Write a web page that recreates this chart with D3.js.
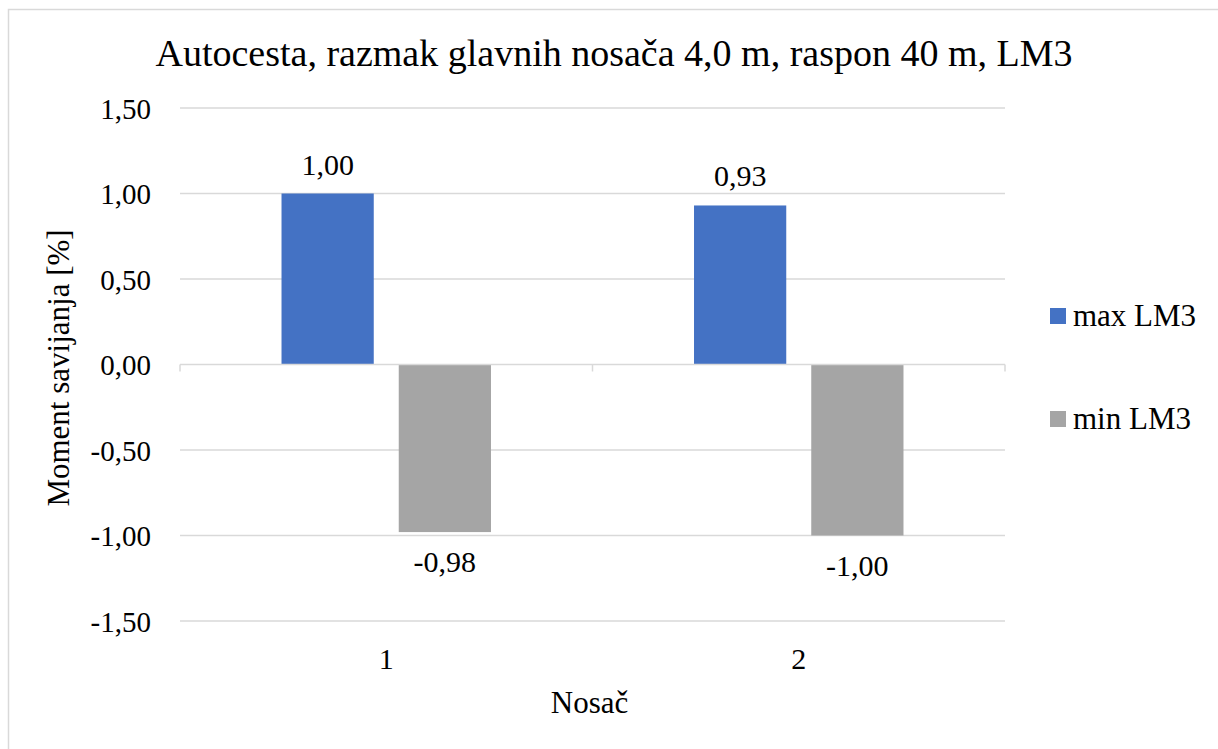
<!DOCTYPE html>
<html><head><meta charset="utf-8">
<script src="https://cdn.jsdelivr.net/npm/d3@7"></script>
</head><body style="margin:0">
<script>
const categories = ["1", "2"];
const seriesNames = ["max LM3", "min LM3"];
const maxValues = [1.00, 0.93];
const minValues = [-0.98, -1.00];
const yTicks = [-1.5, -1.0, -0.5, 0, 0.5, 1.0, 1.5];
const colors = ["#4472C4", "#A5A5A5"];
const title = "Autocesta, razmak glavnih nosača 4,0 m, raspon 40 m, LM3";

const W = 1218, H = 749;
const svg = d3.select("body").append("svg").attr("width", W).attr("height", H).style("display", "block");
svg.append("rect").attr("x", 8.5).attr("y", 9.5).attr("width", 1230).attr("height", 760)
  .attr("fill", "#fff").attr("stroke", "#d9d9d9").attr("stroke-width", 1.5);

function txt(sel, size) {
  return sel.attr("font-family", "Liberation Serif").attr("font-size", size).attr("fill", "#000");
}

const left = 180, right = 1005;
const y = d3.scaleLinear().domain([-1.5, 1.5]).range([621, 108]);
const x = d3.scaleBand().domain(categories).range([left, right]).paddingInner(0).paddingOuter(0);
const fmt = v => d3.format(".2f")(v).replace(".", ",").replace("−", "-");

// gridlines
svg.append("g").selectAll("line").data(yTicks.filter(t => t !== 0)).join("line")
  .attr("x1", left).attr("x2", right).attr("y1", d => y(d)).attr("y2", d => y(d))
  .attr("stroke", "#d9d9d9").attr("stroke-width", 1.5);

// y tick labels
txt(svg.append("g").selectAll("text").data(yTicks).join("text")
  .attr("x", 151).attr("y", d => y(d) + 10.5).attr("text-anchor", "end"), 29).text(d => fmt(d));

// bars
const data = [];
categories.forEach((c, i) => {
  data.push({cat: c, s: 0, v: maxValues[i]});
  data.push({cat: c, s: 1, v: minValues[i]});
});
const barW = x.bandwidth() * 0.2236;
const gap = x.bandwidth() * 0.0606;
const barX = d => x(d.cat) + x.bandwidth() / 2 + (d.s === 0 ? -(barW + gap / 2) : gap / 2);
svg.append("g").selectAll("rect").data(data).join("rect")
  .attr("x", barX).attr("width", barW)
  .attr("y", d => Math.min(y(d.v), y(0))).attr("height", d => Math.abs(y(d.v) - y(0)))
  .attr("fill", d => colors[d.s]);

// zero axis line with ticks
const ax = svg.append("g");
ax.append("line").attr("x1", left).attr("x2", right).attr("y1", y(0)).attr("y2", y(0))
  .attr("stroke", "#d9d9d9").attr("stroke-width", 1.5);
const tickXs = [left].concat(categories.map(c => x(c) + x.bandwidth()));
ax.selectAll("line.t").data(tickXs).join("line").attr("class", "t")
  .attr("x1", d => d).attr("x2", d => d).attr("y1", y(0)).attr("y2", y(0) + 7)
  .attr("stroke", "#d9d9d9").attr("stroke-width", 1.5);

// data labels
txt(svg.append("g").selectAll("text").data(data).join("text")
  .attr("x", d => barX(d) + barW / 2)
  .attr("y", d => d.v >= 0 ? y(d.v) - 19 : y(d.v) + 40)
  .attr("text-anchor", "middle"), 30).text(d => fmt(d.v));

// category labels
txt(svg.append("g").selectAll("text").data(categories).join("text")
  .attr("x", d => x(d) + x.bandwidth() / 2).attr("y", 669)
  .attr("text-anchor", "middle"), 30).text(d => d);

// axis titles
txt(svg.append("text").attr("x", (left + right) / 2 - 3).attr("y", 713).attr("text-anchor", "middle"), 31).text("Nosač");
txt(svg.append("text").attr("transform", "translate(69,368) rotate(-90)").attr("text-anchor", "middle"), 31)
  .text("Moment savijanja [%]");

// title
txt(svg.append("text").attr("x", 614).attr("y", 66).attr("text-anchor", "middle"), 38).text(title);

// legend
const lg = svg.append("g");
seriesNames.forEach((n, i) => {
  const cy = 316 + i * 103;
  lg.append("rect").attr("x", 1050).attr("y", cy - 8).attr("width", 16).attr("height", 16).attr("fill", colors[i]);
  txt(lg.append("text").attr("x", 1073).attr("y", cy + 10), 31).text(n);
});
</script>
</body></html>
